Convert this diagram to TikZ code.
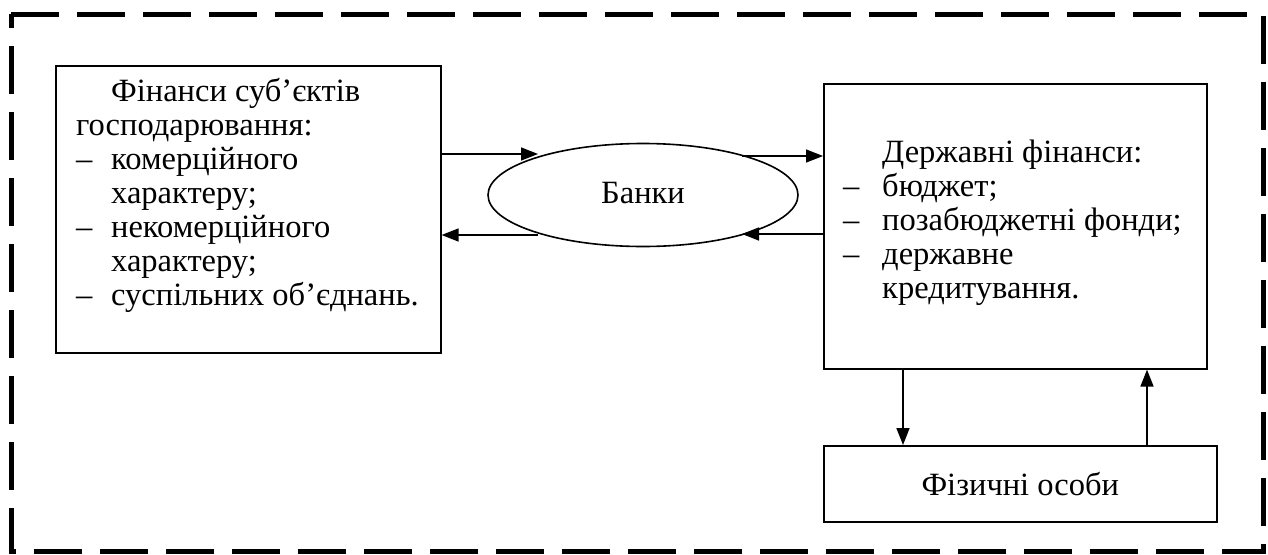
\documentclass[tikz,border=0pt]{standalone}
\usepackage{fontspec}
\setmainfont{Liberation Serif}
\usetikzlibrary{shapes.geometric,arrows.meta}
\tikzset{
  frame/.style={draw=black, line width=5pt, dash pattern=on 48pt off 18pt},
  boxshape/.style={draw=black, line width=1.6pt, inner sep=0pt, rectangle},
  txt/.style={inner sep=0pt, anchor=base west, font=\fontsize{32.5}{34}\selectfont},
  ctxt/.style={inner sep=0pt, font=\fontsize{32.5}{34}\selectfont},
  arr/.style={line width=1.6pt, -{Triangle[length=17pt,width=13pt]}}
}
\begin{document}
\begin{tikzpicture}[x=1pt,y=-1pt]
\useasboundingbox (0,0) rectangle (1268,554);
\draw[frame] (11,14) -- (1263,14) -- (1263,551) -- (11,551) -- cycle;
% boxes
\node[boxshape, minimum width=385pt, minimum height=287pt, anchor=north west] (fin) at (55,65) {};
\node[boxshape, minimum width=383pt, minimum height=285pt, anchor=north west] (gov) at (823,83) {};
\node[boxshape, ctxt, minimum width=393pt, minimum height=76pt, anchor=north west] (fiz) at (823,445) {Фізичні особи};
\node[draw=black, line width=1.6pt, ellipse, minimum width=310pt, minimum height=103pt, inner sep=0pt] (bank) at (643,195) {};
% texts
\node[txt] (fintext) at (76,101) {\parbox[t]{370pt}{\baselineskip=34pt
\hspace*{35pt}Фінанси суб’єктів\\
господарювання:\\
\makebox[35pt][l]{–}комерційного\\
\hspace*{35pt}характеру;\\
\makebox[35pt][l]{–}некомерційного\\
\hspace*{35pt}характеру;\\
\makebox[35pt][l]{–}суспільних об’єднань.}};
\node[txt] (govtext) at (843,162) {\parbox[t]{360pt}{\baselineskip=34pt
\hspace*{39pt}Державні фінанси:\\
\makebox[39pt][l]{–}бюджет;\\
\makebox[39pt][l]{–}позабюджетні фонди;\\
\makebox[39pt][l]{–}державне\\
\hspace*{39pt}кредитування.}};
\node[ctxt] (banktext) at (643,193) {Банки};
% connectors
\coordinate (a1) at (538,154);
\coordinate (a2) at (742,156);
\coordinate (a3) at (742,234);
\coordinate (a4) at (538,235);
\coordinate (dn) at (903,0);
\coordinate (up) at (1147,0);
\draw[arr] (fin.east |- a1) -- (a1);
\draw[arr] (a2) -- (gov.west |- a2);
\draw[arr] (gov.west |- a3) -- (a3);
\draw[arr] (a4) -- (fin.east |- a4);
\draw[arr] (gov.south -| dn) -- (fiz.north -| dn);
\draw[arr] (fiz.north -| up) -- (gov.south -| up);
\end{tikzpicture}
\end{document}
